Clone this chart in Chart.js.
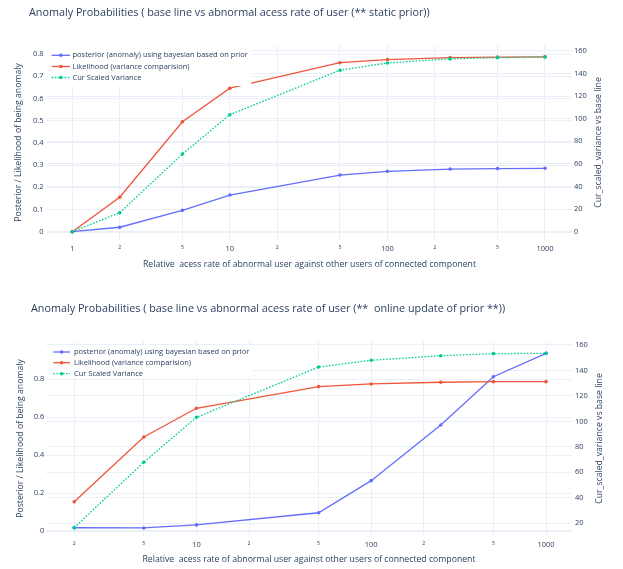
<!DOCTYPE html>
<html><head><meta charset="utf-8">
<script src="https://cdn.jsdelivr.net/npm/chart.js@4.4.1/dist/chart.umd.min.js"></script>
<style>html,body{margin:0;padding:0;background:#fff;overflow:hidden}canvas{display:block}</style>
</head><body>
<canvas id="c1" width="623" height="285"></canvas>
<canvas id="c2" width="623" height="284"></canvas>
<script>
// ---------- data ----------
const seriesNames = ['posterior (anomaly) using bayesian based on prior', 'Likelihood (variance comparision)', 'Cur Scaled Variance'];

const xStatic = [1, 2, 5, 10, 50, 100, 250, 500, 1000];
const posteriorStatic = [0, 0.02, 0.096, 0.165, 0.255, 0.272, 0.282, 0.284, 0.2855];
const likelihoodStatic = [0, 0.155, 0.495, 0.646, 0.761, 0.775, 0.784, 0.786, 0.787];
const varianceStatic = [0, 16.8, 68.8, 103.6, 143, 149.4, 153, 154.1, 154.7];

const xOnline = [2, 5, 10, 50, 100, 250, 500, 1000];
const posteriorOnline = [0.017, 0.016, 0.032, 0.096, 0.265, 0.558, 0.812, 0.935];
const likelihoodOnline = [0.154, 0.495, 0.646, 0.76, 0.774, 0.783, 0.786, 0.786];
const varianceOnline = [16.6, 67.9, 103.2, 142.7, 148, 151.6, 153.2, 153.5];

const xTickValues = [1, 2, 5, 10, 20, 50, 100, 200, 500, 1000];
const xTickLabels = ['1', '2', '5', '10', '2', '5', '100', '2', '5', '1000'];
const xMajorTicks = [1, 10, 100, 1000];

const leftTicksStatic = [0, 0.1, 0.2, 0.3, 0.4, 0.5, 0.6, 0.7, 0.8];
const leftTickLabelsStatic = ['0', '0.1', '0.2', '0.3', '0.4', '0.5', '0.6', '0.7', '0.8'];
const rightTicksStatic = [0, 20, 40, 60, 80, 100, 120, 140, 160];
const rightTickLabelsStatic = ['0', '20', '40', '60', '80', '100', '120', '140', '160'];

const leftTicksOnline = [0, 0.2, 0.4, 0.6, 0.8];
const leftTickLabelsOnline = ['0', '0.2', '0.4', '0.6', '0.8'];
const rightTicksOnline = [20, 40, 60, 80, 100, 120, 140, 160];
const rightTickLabelsOnline = ['20', '40', '60', '80', '100', '120', '140', '160'];

const titleStatic = 'Anomaly Probabilities ( base line vs abnormal acess rate of user (** static prior))';
const titleOnline = 'Anomaly Probabilities ( base line vs abnormal acess rate of user (**  online update of prior **))';
const xTitle = 'Relative  acess rate of abnormal user against other users of connected component';
const yLeftTitle = 'Posterior / Likelihood of being anomaly';
const yRightTitle = 'Cur_scaled_variance vs base line';

// ---------- style ----------
const FONT = '"Open Sans", "DejaVu Sans", sans-serif';
const TEXT = '#2a3f5f';
const GRID = '#EBF0F8';
const COLORS = ['#636efa', '#EF553B', '#00cc96'];
const TICK_SIZE = 7.5, MINOR_SIZE = 5.2, TITLE_SIZE = 10.8, AXIS_TITLE_SIZE = 8.7, LEGEND_SIZE = 7.5;

function makeOverlay(L) {
  return {
    id: 'overlay',
    afterLayout(chart) {
      if (chart.titleBlock) { chart.titleBlock.left = L.titleX; chart.titleBlock.right = chart.width; }
    },
    afterDatasetsDraw(chart) {
      const ctx = chart.ctx;
      ctx.save();
      ctx.fillStyle = '#ffffff';
      ctx.fillRect(L.legBox[0], L.legBox[1], L.legBox[2] - L.legBox[0], L.legBox[3] - L.legBox[1]);
      chart.data.datasets.forEach((ds, i) => {
        const y = L.legY[i];
        ctx.strokeStyle = ds.borderColor;
        ctx.lineWidth = ds.borderWidth;
        ctx.setLineDash(ds.borderDash || []);
        ctx.beginPath();
        ctx.moveTo(L.legLine[0], y);
        ctx.lineTo(L.legLine[1], y);
        ctx.stroke();
        ctx.setLineDash([]);
        ctx.fillStyle = ds.backgroundColor;
        ctx.beginPath();
        ctx.arc((L.legLine[0] + L.legLine[1]) / 2, y, ds.pointRadius, 0, Math.PI * 2);
        ctx.fill();
        ctx.fillStyle = TEXT;
        ctx.font = LEGEND_SIZE + 'px ' + FONT;
        ctx.textAlign = 'left';
        ctx.textBaseline = 'middle';
        ctx.fillText(ds.label, L.legText, y);
      });
      ctx.restore();
    },
    afterDraw(chart) {
      const ctx = chart.ctx;
      const ca = chart.chartArea;
      ctx.save();
      ctx.translate(L.y2TitleX, (ca.top + ca.bottom) / 2);
      ctx.rotate(-Math.PI / 2);
      ctx.fillStyle = TEXT;
      ctx.font = AXIS_TITLE_SIZE + 'px ' + FONT;
      ctx.textAlign = 'center';
      ctx.textBaseline = 'middle';
      ctx.fillText(yRightTitle, 0, 0);
      ctx.restore();
    }
  };
}

function tickSetter(values) {
  return s => { s.ticks = values.filter(v => v >= s.min && v <= s.max).map(v => ({ value: v })); };
}

function buildChart(canvas, L, xs, post, lik, vari, title, lTicks, lLabels, rTicks, rLabels) {
  const pts = ys => xs.map((x, i) => ({ x: x, y: ys[i] }));
  const base = (i, ys, axis, order) => ({
    label: seriesNames[i], data: pts(ys), yAxisID: axis,
    borderColor: COLORS[i], backgroundColor: COLORS[i], borderWidth: 1.3,
    pointRadius: 1.8, pointHoverRadius: 1.8, pointBorderWidth: 0, tension: 0, order: order
  });
  const dGreen = base(2, vari, 'y2', 1);
  dGreen.borderDash = [1.6, 1.6];
  const lh = AXIS_TITLE_SIZE * 1.2;
  return new Chart(canvas, {
    type: 'line',
    data: { datasets: [base(0, post, 'y', 3), base(1, lik, 'y', 2), dGreen] },
    plugins: [makeOverlay(L)],
    options: {
      responsive: false, animation: false, events: [],
      layout: { padding: 0 },
      plugins: {
        legend: { display: false }, tooltip: { enabled: false },
        title: {
          display: true, text: title, align: 'start', color: TEXT,
          font: { family: FONT, size: TITLE_SIZE, weight: 'normal', lineHeight: 1.2 },
          padding: { top: L.titleY - TITLE_SIZE * 0.6, bottom: L.top - (L.titleY - TITLE_SIZE * 0.6) - TITLE_SIZE * 1.2 }
        }
      },
      scales: {
        x: {
          type: 'logarithmic', position: 'bottom', min: L.xmin, max: L.xmax,
          afterFit: s => { s.height = L.canvasH - L.bottom; },
          afterBuildTicks: tickSetter(xTickValues),
          ticks: {
            autoSkip: false, maxRotation: 0, minRotation: 0, padding: L.xPad, color: TEXT,
            font: c => ({ family: FONT, size: (c.tick && xMajorTicks.includes(c.tick.value)) ? TICK_SIZE : MINOR_SIZE }),
            callback: v => xTickLabels[xTickValues.indexOf(v)]
          },
          grid: { color: GRID, lineWidth: 1, drawTicks: false },
          border: { display: false },
          title: { display: true, text: xTitle, color: TEXT, font: { family: FONT, size: AXIS_TITLE_SIZE }, padding: { top: 0, bottom: L.canvasH - L.xTitleY - lh / 2 } }
        },
        y: {
          type: 'linear', position: 'left', min: L.ylmin, max: L.ylmax,
          afterFit: s => { s.width = L.left; },
          afterBuildTicks: tickSetter(lTicks),
          ticks: { padding: L.yPad, color: TEXT, font: { family: FONT, size: TICK_SIZE }, callback: v => lLabels[lTicks.indexOf(v)] },
          grid: { color: GRID, lineWidth: c => (c.tick && c.tick.value === 0) ? 2 : 1, drawTicks: false },
          border: { display: false },
          title: { display: true, text: yLeftTitle, color: TEXT, font: { family: FONT, size: AXIS_TITLE_SIZE }, padding: { top: L.yTitleX - lh / 2, bottom: 0 } }
        },
        y2: {
          type: 'linear', position: 'right', min: L.yrmin, max: L.yrmax,
          afterFit: s => { s.width = 623 - L.right; },
          afterBuildTicks: tickSetter(rTicks),
          ticks: { padding: L.y2Pad, color: TEXT, font: { family: FONT, size: TICK_SIZE }, callback: v => rLabels[rTicks.indexOf(v)] },
          grid: { color: GRID, lineWidth: c => (c.tick && c.tick.value === 0) ? 2 : 1, drawTicks: false },
          border: { display: false }
        }
      }
    }
  });
}

const L1 = {
  canvasH: 285, left: 47, right: 572, top: 45, bottom: 240,
  titleX: 29, titleY: 13.3, xmin: 0.691, xmax: 1484,
  ylmin: -0.0374, ylmax: 0.8406, yrmin: -7.35, yrmax: 165.3,
  xPad: 4.0, xTitleY: 264.3, yTitleX: 19, y2TitleX: 599, yPad: 3.5, y2Pad: 2,
  legBox: [48, 47, 251, 86], legY: [55.3, 66.5, 77.5], legLine: [51.7, 70], legText: 72.5
};
const L2 = {
  canvasH: 284, left: 46, right: 572, top: 56, bottom: 251,
  titleX: 31, titleY: 24, xmin: 1.379, xmax: 1408,
  ylmin: -0.0263, ylmax: 1.0, yrmin: 10.03, yrmax: 163.14,
  xPad: 4.5, xTitleY: 275, yTitleX: 20.7, y2TitleX: 599.3, yPad: 1.8, y2Pad: 3,
  legBox: [48, 61, 252, 92.5], legY: [67, 77.7, 88.7], legLine: [53.3, 70], legText: 74
};

const charts = [
  buildChart(document.getElementById('c1'), L1, xStatic, posteriorStatic, likelihoodStatic, varianceStatic, titleStatic,
    leftTicksStatic, leftTickLabelsStatic, rightTicksStatic, rightTickLabelsStatic),
  buildChart(document.getElementById('c2'), L2, xOnline, posteriorOnline, likelihoodOnline, varianceOnline, titleOnline,
    leftTicksOnline, leftTickLabelsOnline, rightTicksOnline, rightTickLabelsOnline)
];
if (document.fonts && document.fonts.ready) document.fonts.ready.then(() => charts.forEach(c => c.update()));
</script>
</body></html>
